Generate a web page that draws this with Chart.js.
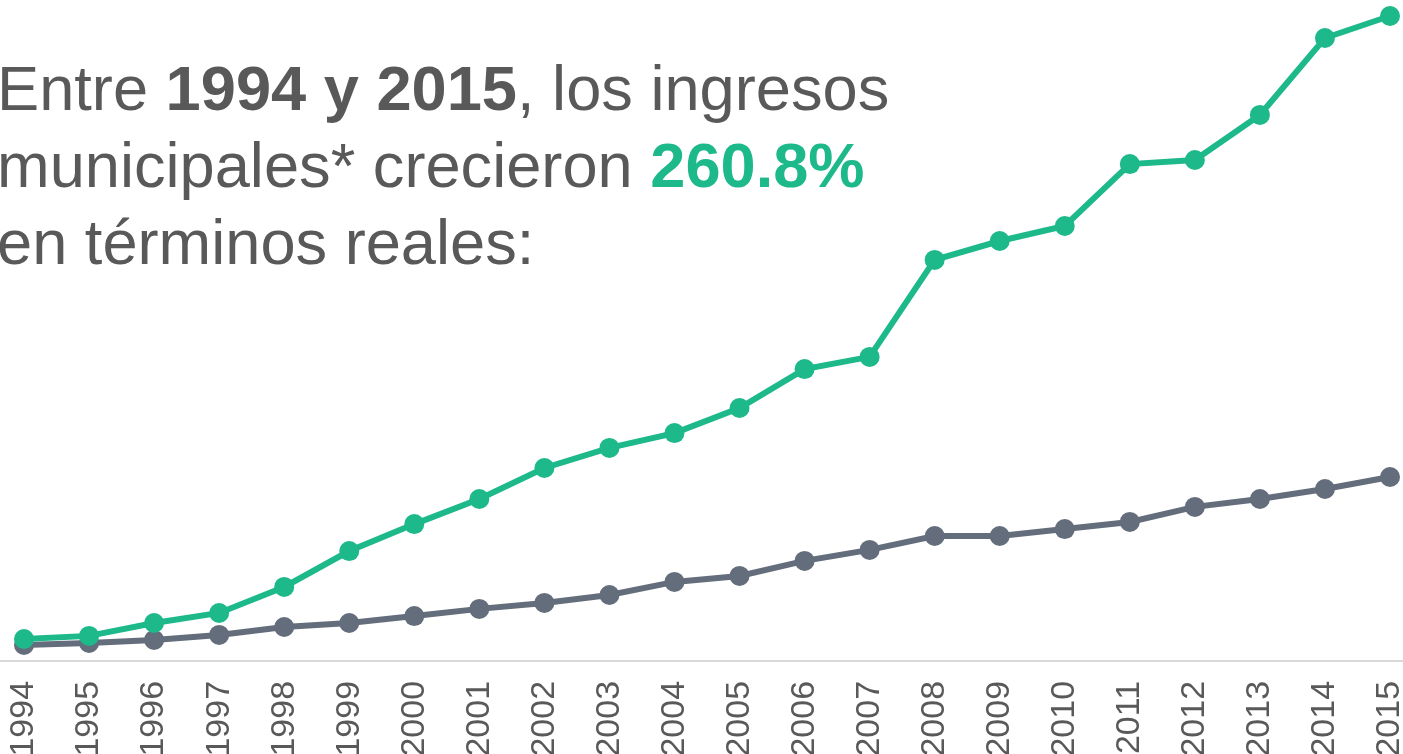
<!DOCTYPE html>
<html>
<head>
<meta charset="utf-8">
<script src="https://cdn.jsdelivr.net/npm/chart.js@4"></script>
<style>
  html, body { margin: 0; padding: 0; overflow: hidden; background: #fff; }
  #wrap { position: relative; width: 1403px; height: 800px; }
  #title {
    position: absolute; left: -3px; top: 50px;
    font-family: "Liberation Sans", Arial, sans-serif;
    font-size: 63.2px; line-height: 77px; color: #595959; white-space: nowrap;
  }
  #title .pct { color: #1DB98A; }
</style>
</head>
<body>
<div id="wrap">
  <canvas id="ingresos_chart"></canvas>
  <div id="title">Entre <b>1994 y 2015</b>, los ingresos<br>municipales* crecieron <b class="pct">260.8%</b><br>en términos reales:</div>
</div>
<script>
  const years = ['1994', '1995', '1996', '1997', '1998', '1999', '2000', '2001', '2002', '2003', '2004',
                 '2005', '2006', '2007', '2008', '2009', '2010', '2011', '2012', '2013', '2014', '2015'];

  // indice real, 1994 = 100 (ingresos municipales)
  const ingresosMunicipales = [100.0, 101.3, 106.7, 110.9, 121.8, 136.8, 148.1, 158.6, 171.6, 180.0, 186.2,
                               196.7, 213.0, 218.1, 258.7, 266.6, 272.9, 298.8, 300.5, 319.4, 351.6, 360.8];
  // serie de comparacion (gris)
  const serieReferencia = [97.5, 98.3, 99.6, 101.7, 105.0, 106.7, 109.6, 112.6, 115.1, 118.4, 123.9,
                           126.4, 132.7, 137.3, 143.1, 143.1, 146.0, 149.0, 155.3, 158.6, 162.8, 167.8];

  const green = '#1DB98A';
  const grey = '#646D7B';

  // thin base line across the whole width
  const baseLine = {
    id: 'baseLine',
    beforeDatasetsDraw(chart) {
      const ctx = chart.ctx;
      const y = chart.chartArea.bottom;
      ctx.save();
      ctx.strokeStyle = '#D9D9D9';
      ctx.lineWidth = 2;
      ctx.beginPath();
      ctx.moveTo(0, y);
      ctx.lineTo(chart.width, y);
      ctx.stroke();
      ctx.restore();
    }
  };

  const data = {
    labels: years,
    datasets: [{
      label: 'Ingresos municipales',
      data: ingresosMunicipales,
      borderColor: green,
      backgroundColor: green,
      borderWidth: 6,
      pointRadius: 10,
      pointBorderWidth: 0,
      tension: 0,
      clip: false
    }, {
      label: 'Referencia',
      data: serieReferencia,
      borderColor: grey,
      backgroundColor: grey,
      borderWidth: 6,
      pointRadius: 10,
      pointBorderWidth: 0,
      tension: 0,
      clip: false
    }]
  };

  new Chart(document.getElementById('ingresos_chart'), {
    type: 'line',
    data: data,
    plugins: [baseLine],
    options: {
      responsive: true,
      maintainAspectRatio: false,
      animation: false,
      layout: { autoPadding: false, padding: { left: 24, right: 13, top: 0, bottom: 23.4 } },
      plugins: { legend: { display: false }, tooltip: { enabled: false } },
      scales: {
        y: { display: false, min: 90.8, max: 367.5 },
        x: {
          offset: false,
          grid: { display: false, drawTicks: false },
          border: { display: false },
          ticks: {
            minRotation: 90, maxRotation: 90, autoSkip: false, padding: 20,
            color: '#595959',
            font: { family: '"Liberation Sans", Arial, sans-serif', size: 34 }
          },
          afterFit(scale) { scale.paddingLeft = 0; scale.paddingRight = 0; }
        }
      }
    }
  });
</script>
</body>
</html>
